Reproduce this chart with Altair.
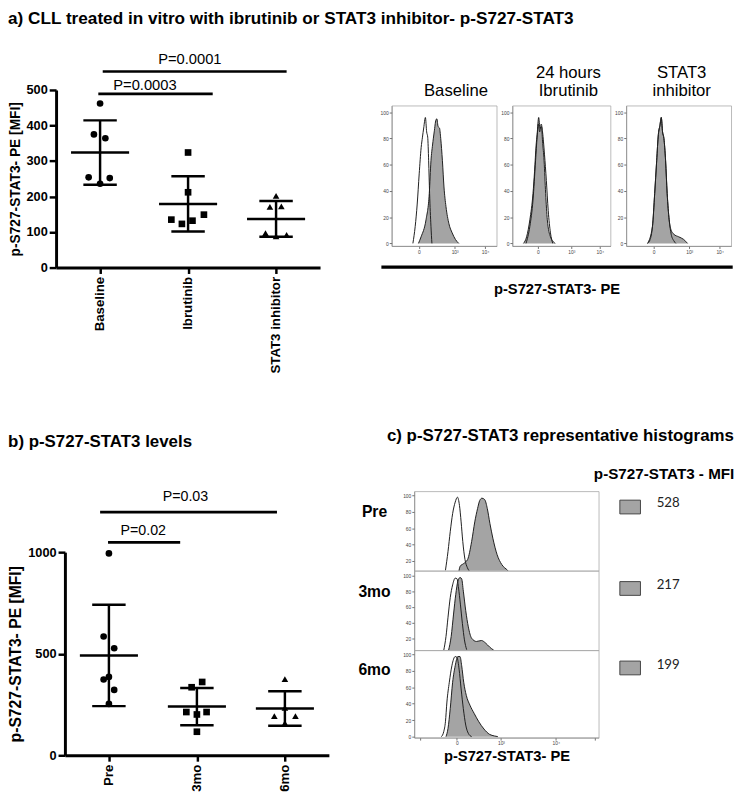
import altair as alt
import pandas as pd

FONT = "Liberation Sans"
NUM_FONT = "Lato"
GRAY = "#a4a4a4"
LINE = "#1e1e1e"

# ---------------- panel a: dot plot ----------------
a_categories = ["Baseline", "Ibrutinib", "STAT3 inhibitor"]
a_values = [
    [462, 375, 364, 254, 252, 236],
    [324, 212, 149, 135, 132, 123],
    [202, 171, 172, 97, 92, 88],
]
a_jitter = [
    [0.0, -0.07, 0.06, -0.13, 0.11, 0.0],
    [0.0, 0.0, 0.18, -0.19, 0.05, -0.07],
    [0.0, -0.07, 0.06, -0.12, 0.12, 0.0],
]
a_p_labels = ["P=0.0001", "P=0.0003"]
a_p_from = [0.03, -0.02]
a_p_to = [2.12, 1.28]
a_p_level = [552, 489]
a_p_text_level = [586, 514]
a_p_text_x = [1.02, 0.51]

# ---------------- panel b: dot plot ----------------
b_categories = ["Pre", "3mo", "6mo"]
b_values = [
    [994, 585, 527, 386, 373, 322, 253],
    [361, 335, 213, 213, 201, 116],
    [375, 233, 193, 193, 158],
]
b_jitter = [
    [0.0, -0.06, 0.06, 0.0, -0.06, 0.06, 0.0],
    [0.06, -0.06, -0.12, 0.11, 0.0, 0.0],
    [0.0, 0.0, -0.12, 0.12, 0.0],
]
b_p_labels = ["P=0.03", "P=0.02"]
b_p_from = [-0.10, -0.01]
b_p_to = [1.91, 0.81]
b_p_level = [1197, 1048]
b_p_text_level = [1272, 1103]
b_p_text_x = [0.87, 0.39]

# ---------------- panel a: histograms (channel 0-100, % of max) ----------------
ha_titles = [["Baseline"], ["24 hours", "Ibrutinib"], ["STAT3", "inhibitor"]]
ha_iso_u = [
    [20.2, 22.4, 24.3, 26.2, 28.05, 29.3, 30.5, 32.1, 33.3, 34.3, 35.2, 36.1, 37.4, 38.3],
    [13.9, 17.8, 21.0, 23.6, 25.2, 26.5, 27.8, 29.4, 30.7, 32.7, 34.6, 36.5, 38.8, 41.1],
    [20.3, 25.0, 27.1, 29.0, 30.6, 32.1, 33.4, 34.6, 35.9, 37.5, 39.0, 40.9, 42.8, 45.3, 47.2],
]
ha_iso_v = [
    [0, 13, 30, 53, 73, 81, 88, 96, 85, 81, 63, 38, 13, 0],
    [0, 13, 33, 63, 81, 91, 85, 91, 85, 68, 48, 25, 8, 0],
    [0, 13, 38, 63, 83, 90, 96, 85, 80, 63, 38, 18, 7, 2, 0],
]
ha_smp_u = [
    [25.5, 28.0, 32.7, 35.8, 37.4, 38.9, 40.5, 42.1, 43.0, 44.2, 45.5, 46.7, 48.3, 49.8, 51.7, 54.5, 57.6, 60.7, 63.9],
    [11.3, 14.5, 17.8, 21.0, 22.6, 24.2, 25.2, 26.8, 28.1, 29.7, 30.7, 32.3, 33.9, 35.6, 38.8, 43.7],
    [20.3, 22.8, 25.0, 27.1, 29.0, 30.6, 32.1, 33.4, 34.6, 35.9, 37.5, 39.0, 40.9, 42.8, 45.3, 50.0, 54.7, 58.4],
]
ha_smp_v = [
    [0, 5, 18, 38, 63, 75, 85, 94, 95, 89, 88, 80, 63, 43, 28, 15, 8, 3, 0],
    [0, 5, 18, 38, 55, 75, 83, 96, 88, 89, 78, 63, 38, 18, 5, 0],
    [0, 3, 13, 38, 63, 83, 90, 96, 85, 80, 63, 38, 18, 10, 7, 5, 3, 0],
]
ha_xticks = [26, 60, 89]
ha_xlabels = ["0", "10³", "10⁴"]
ha_yticks = [0, 20, 40, 60, 80, 100]

# ---------------- panel c: histograms ----------------
hc_rows = ["Pre", "3mo", "6mo"]
hc_mfi = [528, 217, 199]
hc_iso_u = [
    [16.9, 18.3, 19.5, 20.8, 22.2, 23.4, 24.5, 25.4, 26.3, 27.5, 28.8, 30.2],
    [16.0, 17.2, 18.3, 19.5, 20.8, 22.2, 23.2, 24.0, 25.0, 26.1, 27.2, 28.4],
    [14.7, 15.97, 16.9, 17.7, 19.0, 20.4, 22.2, 23.2, 24.3, 25.4, 26.6, 27.9, 29.3, 31.1],
]
hc_iso_v = [
    [8.4, 31.7, 55.8, 77.9, 92, 98, 88, 67.8, 43.7, 21.7, 11.7, 6.8],
    [5.2, 22.5, 47, 71.8, 88, 96.5, 95.6, 84, 63.6, 38.9, 18.3, 5.9],
    [0, 6, 18, 41.9, 65.9, 85.9, 97, 95.8, 81.8, 57.8, 33.9, 14, 4, 0],
]
hc_smp_u = [
    [24.0, 24.9, 26.6, 28.9, 31.1, 32.8, 34.3, 35.5, 36.7, 38.2, 39.6, 41.0, 42.6, 44.9, 47.4, 50.6, 52.4],
    [18.6, 20.0, 21.3, 22.5, 23.6, 24.8, 25.7, 26.6, 27.9, 29.3, 31.1, 33.7, 36.4, 38.7, 40.8, 43.1],
    [17.2, 18.3, 19.5, 20.8, 22.2, 23.6, 24.8, 25.7, 26.8, 28.2, 30.2, 32.5, 35.0, 37.8, 40.8, 43.5, 45.3],
]
hc_smp_v = [
    [5, 13.6, 16.5, 21.7, 43.7, 67.8, 84, 94, 96.8, 95, 84, 65.9, 47.8, 27.7, 15.7, 8.4, 3.6],
    [5.2, 22.5, 51, 76, 92.3, 97.3, 95.6, 80, 55.3, 34.8, 20.4, 16.3, 17.5, 14.2, 9.3, 5.2],
    [0, 10, 33.9, 65.9, 85.9, 97, 97, 85.9, 65.9, 50, 38, 28, 18, 9.2, 2.8, 0.8, 0],
]
hc_xticks = [3, 23.1, 47, 76.7, 98]
hc_xlabels = ["", "0", "10³", "10⁴", ""]
hc_yticks = [[20, 40, 60, 80, 100], [20, 40, 60, 80, 100], [0, 20, 40, 60, 80, 100]]
hc_ydomains = [[7.9, 105.2], [5.1, 105.8], [-1.2, 104.6]]
hc_heights = [81, 81, 89]


def label_expr(vals, labels):
    parts = [f"datum.value == {v} ? '{l}'" for v, l in zip(vals, labels)]
    return " : ".join(parts) + " : ''"


def dot_plot(cats, values, jitters, p_labels, p_from, p_to, p_level, p_text_level,
             p_text_x, ymax, yticks, width, height, xrange, yrange, yoffset,
             ytitle_size, p_size, title=None):
    rows = []
    for i, (vals, jit) in enumerate(zip(values, jitters)):
        for v, j in zip(vals, jit):
            rows.append({"group": cats[i], "idx": i, "value": v, "xpos": i + j})
    df = pd.DataFrame(rows)
    cat_expr = "[" + ",".join(f"'{c}'" for c in cats) + "][datum.value]"
    xscale = alt.Scale(domain=[-0.5, len(cats) - 0.5], range=xrange, nice=False, zero=False)
    yscale = alt.Scale(domain=[0, ymax], range=yrange, nice=False)
    xaxis = alt.Axis(values=list(range(len(cats))), labelExpr=cat_expr, labelAngle=-90,
                     title=None, grid=False, domainWidth=3, domainColor="black",
                     tickWidth=2.5, tickSize=6, tickColor="black", labelFont=FONT,
                     labelFontSize=13.5, labelFontWeight="bold", labelColor="black",
                     labelPadding=3)
    yaxis = alt.Axis(values=yticks, format="d", title="p-S727-STAT3- PE [MFI]", grid=False,
                     offset=yoffset, domainWidth=3, domainColor="black", tickWidth=2.5,
                     tickSize=7, tickColor="black", labelFont=FONT, labelFontSize=13,
                     labelFontWeight="bold", labelColor="black", labelPadding=2,
                     titleFont=FONT, titleFontSize=ytitle_size, titleFontWeight="bold",
                     titleColor="black", titlePadding=4)
    base = alt.Chart(df)
    pts = base.mark_point(filled=True, color="black", size=46, opacity=1).encode(
        x=alt.X("xpos:Q", scale=xscale, axis=xaxis),
        y=alt.Y("value:Q", scale=yscale, axis=yaxis),
        shape=alt.Shape("group:N", scale=alt.Scale(domain=cats,
                        range=["circle", "square", "triangle-up"]), legend=None),
    )
    stats = base.transform_aggregate(
        mean="mean(value)", sd="stdev(value)", groupby=["idx"]
    ).transform_calculate(
        hi="datum.mean + datum.sd", lo="datum.mean - datum.sd",
        ml="datum.idx - 0.33", mr="datum.idx + 0.33",
        cl="datum.idx - 0.19", cr="datum.idx + 0.19",
    )
    rule_kw = dict(color="black", strokeWidth=2.5)
    mean_r = stats.mark_rule(**rule_kw).encode(
        x=alt.X("ml:Q", scale=xscale, axis=xaxis), x2="mr:Q",
        y=alt.Y("mean:Q", scale=yscale, axis=yaxis))
    sd_r = stats.mark_rule(**rule_kw).encode(
        x=alt.X("idx:Q", scale=xscale, axis=xaxis),
        y=alt.Y("lo:Q", scale=yscale, axis=yaxis), y2="hi:Q")
    cap_hi = stats.mark_rule(**rule_kw).encode(
        x=alt.X("cl:Q", scale=xscale, axis=xaxis), x2="cr:Q",
        y=alt.Y("hi:Q", scale=yscale, axis=yaxis))
    cap_lo = stats.mark_rule(**rule_kw).encode(
        x=alt.X("cl:Q", scale=xscale, axis=xaxis), x2="cr:Q",
        y=alt.Y("lo:Q", scale=yscale, axis=yaxis))
    pdf = pd.DataFrame({"label": p_labels, "x1": p_from, "x2": p_to,
                        "yl": p_level, "yt": p_text_level, "xt": p_text_x})
    p_rule = alt.Chart(pdf).mark_rule(color="black", strokeWidth=2.7).encode(
        x=alt.X("x1:Q", scale=xscale, axis=xaxis), x2="x2:Q",
        y=alt.Y("yl:Q", scale=yscale, axis=yaxis))
    p_text = alt.Chart(pdf).mark_text(font=FONT, fontSize=p_size, color="black",
                                      baseline="middle").encode(
        x=alt.X("xt:Q", scale=xscale, axis=xaxis),
        y=alt.Y("yt:Q", scale=yscale, axis=yaxis), text="label:N")
    props = dict(width=width, height=height)
    if title is not None:
        props["title"] = title
    return alt.layer(p_rule, p_text, mean_r, sd_r, cap_hi, cap_lo, pts).properties(**props)


def hist_layers(iso_u, iso_v, s_u, s_v, ydom, xaxis, yaxis, clip):
    iso = pd.DataFrame({"u": iso_u, "v": iso_v})
    smp = pd.DataFrame({"u": s_u, "v": s_v})
    xs = alt.Scale(domain=[0, 100], nice=False, zero=False)
    ys = alt.Scale(domain=ydom, nice=False, zero=False)
    X = alt.X("u:Q", scale=xs, axis=xaxis)
    Y = alt.Y("v:Q", scale=ys, axis=yaxis)
    area = alt.Chart(smp).mark_area(color=GRAY, opacity=1, interpolate="monotone",
                                    clip=clip).encode(x=X, y=Y)
    sline = alt.Chart(smp).mark_line(color=LINE, strokeWidth=1, interpolate="monotone",
                                     clip=clip).encode(x=X, y=Y)
    iline = alt.Chart(iso).mark_line(color=LINE, strokeWidth=1, interpolate="monotone",
                                     clip=clip).encode(x=X, y=Y)
    return [area, sline, iline]


small_axis = dict(grid=False, domainColor="#8a8a8a", domainWidth=0.8, tickColor="#333",
                  tickWidth=0.7, tickSize=2.5, labelFont=FONT, labelFontSize=5,
                  labelColor="#444", labelPadding=1, title=None)
frame = alt.ViewBackground(stroke="#a8a8a8", strokeWidth=0.8)

# ---- panel a histograms
ha_widths = [107, 100, 107]
ha_dx = [12, 7, 3]
ha_panels = []
for k in range(3):
    xa = alt.Axis(values=ha_xticks, labelExpr=label_expr(ha_xticks, ha_xlabels), **small_axis)
    ya = alt.Axis(values=ha_yticks, **small_axis)
    layers = hist_layers(ha_iso_u[k], ha_iso_v[k], ha_smp_u[k], ha_smp_v[k],
                         [-2, 105], xa, ya, False)
    ha_panels.append(alt.layer(*layers).properties(
        width=ha_widths[k], height=143, view=frame,
        title=alt.TitleParams(ha_titles[k], font=FONT, fontSize=17, fontWeight="normal",
                              color="black", offset=6, dx=ha_dx[k], lineHeight=18)))

hist_row = alt.hconcat(*ha_panels, spacing=16, bounds="flush")

axis_df = pd.DataFrame({"u": [0.5]})
axis_chart = alt.Chart(axis_df).mark_point(opacity=0).encode(
    x=alt.X("u:Q", scale=alt.Scale(domain=[0, 1], range=[-11, 347]),
            axis=alt.Axis(title="p-S727-STAT3- PE", ticks=False, labels=False, grid=False,
                          domainWidth=3.5, domainColor="black", titleFont=FONT,
                          titleFontSize=15, titleFontWeight="bold", titleColor="black",
                          titlePadding=15))
).properties(width=347, height=1)

hist_a_block = alt.vconcat(hist_row, axis_chart, spacing=8)

# ---- panel c histograms
box_shape = "M-1,-0.667H1V0.667H-1Z"
hc_title_y = [21, 21, 20]
hc_box_y = [16, 18, 18]
hc_num_y = [12, 15, 15]
hc_panels = []
for k in range(3):
    last = k == 2
    if last:
        xa = alt.Axis(values=hc_xticks, labelExpr=label_expr(hc_xticks, hc_xlabels),
                      **{**small_axis, "title": "p-S727-STAT3- PE"},
                      titleFont=FONT, titleFontSize=15, titleFontWeight="bold",
                      titleColor="black", titlePadding=3)
    else:
        xa = None
    ya = alt.Axis(values=hc_yticks[k], **{**small_axis, "title": hc_rows[k]},
                  titleAngle=0, titleX=-41, titleY=hc_title_y[k], titleAlign="center",
                  titleBaseline="middle", titleFont=FONT, titleFontSize=16,
                  titleFontWeight="bold", titleColor="black")
    layers = hist_layers(hc_iso_u[k], hc_iso_v[k], hc_smp_u[k], hc_smp_v[k],
                         hc_ydomains[k], xa, ya, True)
    mdf = pd.DataFrame({"mfi": [hc_mfi[k]]})
    box = alt.Chart(mdf).mark_point(shape=box_shape, size=441, filled=True, fill=GRAY,
                                    stroke="#444", strokeWidth=1, opacity=1).encode(
        x=alt.value(220), y=alt.value(hc_box_y[k]))
    num = alt.Chart(mdf).mark_text(font=NUM_FONT, fontSize=13.5, color="#222",
                                   align="left", baseline="middle").encode(
        x=alt.value(247), y=alt.value(hc_num_y[k]), text=alt.Text("mfi:Q"))
    props = dict(width=188, height=hc_heights[k], view=frame)
    if k == 0:
        props["title"] = alt.TitleParams("p-S727-STAT3 - MFI", font=FONT, fontSize=15.5,
                                         fontWeight="bold", color="black", anchor="start",
                                         frame="group", dx=183, offset=9)
    hc_panels.append(alt.layer(*layers, box, num).properties(**props))

hist_c_block = alt.vconcat(
    *hc_panels, spacing=0, bounds="flush",
    title=alt.TitleParams("c) p-S727-STAT3 representative histograms", font=FONT,
                          fontSize=17.2, fontWeight="bold", color="black", anchor="start",
                          offset=23, dx=30),
)

# ---- dot plots
scatter_a = dot_plot(a_categories, a_values, a_jitter, a_p_labels, a_p_from, a_p_to,
                     a_p_level, a_p_text_level, a_p_text_x, 500,
                     [0, 100, 200, 300, 400, 500], 269, 165, [0, 269], [165, -16], 0,
                     14, 15)
scatter_b = dot_plot(b_categories, b_values, b_jitter, b_p_labels, b_p_from, b_p_to,
                     b_p_level, b_p_text_level, b_p_text_x, 1000, [0, 500, 1000],
                     278, 269, [9, 278], [269, 62], -9, 16, 14.5,
                     title=alt.TitleParams("b) p-S727-STAT3 levels", font=FONT, fontSize=17.2,
                                           fontWeight="bold", color="black", anchor="start",
                                           frame="bounds", offset=40))

row_a = alt.hconcat(scatter_a, hist_a_block, spacing=60)
row_b = alt.hconcat(scatter_b, hist_c_block, spacing=29)

chart = alt.vconcat(
    row_a, row_b, spacing=54,
    title=alt.TitleParams("a) CLL treated in vitro with ibrutinib or STAT3 inhibitor- p-S727-STAT3",
                          font=FONT, fontSize=17.5, fontWeight="bold", color="black",
                          anchor="start", offset=26),
).properties(
    padding={"left": 0, "top": -6, "right": 0, "bottom": 0},
    background="white",
).configure_view(stroke=None)

chart.save("out.html", embed_options={"renderer": "svg", "actions": False})
